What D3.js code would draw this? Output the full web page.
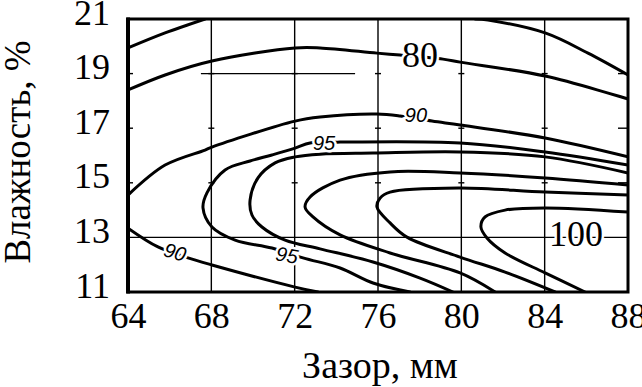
<!DOCTYPE html>
<html>
<head>
<meta charset="utf-8">
<script src="https://cdn.jsdelivr.net/npm/d3@7"></script>
<style>
  html, body { margin: 0; padding: 0; background: #fff; }
  svg { display: block; }
</style>
</head>
<body>
<div id="chart"></div>
<script>
// axis ticks
const xTicks = [64, 68, 72, 76, 80, 84, 88];
const yTicks = [11, 13, 15, 17, 19, 21];

// contour lines as [зазор, влажность]
const line70a = [[64, 19.94], [65.78, 20.49], [67.7, 21]];
const line70b = [[80.66, 21], [81.28, 20.96], [84.02, 20.49], [86.08, 19.75], [88, 18.95]];
const line80 = [[64, 18.4], [65.78, 18.95], [68.03, 19.46], [72.02, 19.94], [73.22, 19.94],
  [75.95, 19.75], [77.06, 19.68], [79.12, 19.53], [79.94, 19.42], [84.02, 18.91], [88, 18.07]];
const line90a = [[64, 14.55], [65.78, 15.65], [67.7, 16.2], [68.03, 16.31], [72.02, 17.26],
  [73.22, 17.41], [75.95, 17.52], [77.06, 17.45], [78.59, 17.26], [79.94, 17.12], [84.02, 16.64], [88, 15.95]];
const line90b = [[64, 13.34], [65.44, 12.65], [66.88, 12.25], [68.03, 11.99], [72.02, 11.18], [73.12, 11.0]];
const line95 = [[88, 15.65], [84.02, 16.13], [79.94, 16.46], [74.18, 16.49], [72.74, 16.46], [72.02, 16.27],
  [70.91, 16.02], [69.86, 15.8], [68.66, 15.47], [67.79, 14.63], [67.6, 14.08], [68.03, 13.38],
  [69.14, 12.9], [70.91, 12.61], [72.4, 12.25], [74.18, 11.88], [75.76, 11.33], [77.54, 11.0]];
const line97 = [[88, 15.36], [84.02, 15.95], [79.94, 16.13], [75.76, 16.09], [73.22, 16.05], [72.02, 15.95],
  [71.06, 15.73], [70.24, 15.18], [69.86, 14.37], [69.95, 13.82], [70.43, 13.38], [71.54, 12.9],
  [73.22, 12.58], [75.76, 12.1], [78.02, 11.51], [79.6, 11.0]];
const line98 = [[88, 14.92], [84.02, 15.18], [79.94, 15.36], [76.58, 15.4], [74.18, 15.1], [72.74, 14.48],
  [72.5, 14.11], [72.88, 13.75], [74.18, 13.09], [76.58, 12.43], [79.94, 11.7], [81.62, 11.0]];
const line99 = [[88, 14.55], [84.02, 14.66], [79.94, 14.81], [76.58, 14.66], [76.1, 14.44], [75.95, 14.11],
  [76.58, 13.53], [77.39, 13.01], [79.94, 12.28], [82.1, 11.73], [84.5, 11.0]];
const line100 = [[88, 13.93], [84.02, 14.08], [82.1, 14.0], [81.14, 13.75], [80.94, 13.38], [81.23, 12.98],
  [82.1, 12.43], [84.02, 11.7], [85.94, 11.0]];

// contour labels [text, зазор, влажность]
const contourLabels = [
  ['80', 78.02, 19.68],
  ['90', 77.82, 17.48],
  ['95', 73.41, 16.46],
  ['90', 66.26, 12.47],
  ['95', 71.63, 12.36],
  ['100', 85.5, 13.12]
];

const width = 642, height = 387;
const margin = { top: 19, right: 14, bottom: 95, left: 128 };

const svg = d3.select('#chart')
  .append('svg')
  .attr('width', width)
  .attr('height', height);

const x = d3.scaleLinear().domain([64, 88]).range([margin.left, width - margin.right]);
const y = d3.scaleLinear().domain([11, 21]).range([height - margin.bottom, margin.top]);

svg.append('clipPath').attr('id', 'plot-clip')
  .append('rect')
  .attr('x', x(64)).attr('y', y(21))
  .attr('width', x(88) - x(64)).attr('height', y(11) - y(21));

// grid
const grid = svg.append('g').attr('stroke', '#000').attr('stroke-width', 1.4);
grid.selectAll('line.v')
  .data(xTicks.slice(1, -1))
  .enter().append('line')
  .attr('x1', d => x(d)).attr('x2', d => x(d))
  .attr('y1', y(21)).attr('y2', y(11));
grid.append('line')
  .attr('x1', x(64)).attr('x2', x(88))
  .attr('y1', y(13)).attr('y2', y(13));
// broken line at 19 in the original
grid.append('line')
  .attr('x1', x(67.5)).attr('x2', x(74.9))
  .attr('y1', y(19)).attr('y2', y(19));

// small tick marks inside the frame
const innerY = [15, 17, 19];
innerY.forEach(v => {
  grid.append('line').attr('x1', x(64)).attr('x2', x(64) + 5).attr('y1', y(v)).attr('y2', y(v));
  grid.append('line').attr('x1', x(88) - 10).attr('x2', x(88)).attr('y1', y(v)).attr('y2', y(v));
  xTicks.slice(1, -1).forEach(t => {
    grid.append('line').attr('x1', x(t) - 3).attr('x2', x(t) + 3).attr('y1', y(v)).attr('y2', y(v));
  });
});

// contours
const line = d3.line()
  .x(d => x(d[0]))
  .y(d => y(d[1]))
  .curve(d3.curveCatmullRom.alpha(0.5));

const contours = [line70a, line70b, line80, line90a, line90b, line95, line97, line98, line99, line100];
svg.append('g')
  .attr('clip-path', 'url(#plot-clip)')
  .selectAll('path')
  .data(contours)
  .enter().append('path')
  .attr('d', line)
  .attr('fill', 'none')
  .attr('stroke', '#000')
  .attr('stroke-width', 3)
  .attr('stroke-linecap', 'round');

// contour labels
const labelGroup = svg.append('g');
contourLabels.forEach((d, i) => {
  const big = d[0] === '80' || d[0] === '100';
  const angle = i === 3 ? 16 : (i === 4 ? 10 : 0);
  labelGroup.append('text')
    .attr('transform', `translate(${x(d[1])},${y(d[2])}) rotate(${angle})`)
    .attr('text-anchor', 'middle')
    .attr('dy', big ? '0.34em' : '0.36em')
    .attr('font-family', big ? '"Liberation Serif", "Times New Roman", serif' : '"Liberation Sans", Arial, sans-serif')
    .attr('font-style', big ? 'normal' : 'italic')
    .attr('font-size', big ? 36 : 20)
    .attr('fill', '#000')
    .attr('stroke', '#fff')
    .attr('stroke-width', big ? 5 : 5)
    .attr('paint-order', 'stroke')
    .text(d[0]);
});

// frame
svg.append('rect')
  .attr('x', x(64)).attr('y', y(21))
  .attr('width', x(88) - x(64)).attr('height', y(11) - y(21))
  .attr('fill', 'none')
  .attr('stroke', '#000')
  .attr('stroke-width', 3);
svg.append('line')
  .attr('x1', x(64)).attr('x2', x(64))
  .attr('y1', y(21) - 1.5).attr('y2', y(11) + 1.5)
  .attr('stroke', '#000').attr('stroke-width', 4);

// axes
const serif = '"Liberation Serif", "Times New Roman", serif';
const xAxis = svg.append('g')
  .attr('transform', `translate(0,${y(11)})`)
  .call(d3.axisBottom(x).tickValues(xTicks).tickSize(0).tickFormat(d3.format('d')));
xAxis.select('.domain').remove();
xAxis.selectAll('text')
  .attr('y', 36).attr('dy', 0)
  .attr('font-family', serif).attr('font-size', 36).attr('fill', '#000');

const yAxis = svg.append('g')
  .attr('transform', `translate(${x(64)},0)`)
  .call(d3.axisLeft(y).tickValues(yTicks).tickSize(0).tickPadding(18).tickFormat(d3.format('d')));
yAxis.select('.domain').remove();
yAxis.selectAll('text')
  .attr('dy', '0.14em')
  .attr('font-family', serif).attr('font-size', 36).attr('fill', '#000');

// axis titles
svg.append('text')
  .attr('x', 380).attr('y', 378)
  .attr('text-anchor', 'middle')
  .attr('font-family', serif).attr('font-size', 38)
  .text('Зазор, мм');

svg.append('text')
  .attr('transform', 'translate(30,152) rotate(-90)')
  .attr('text-anchor', 'middle')
  .attr('font-family', serif).attr('font-size', 37)
  .text('Влажность, %');
</script>
</body>
</html>
